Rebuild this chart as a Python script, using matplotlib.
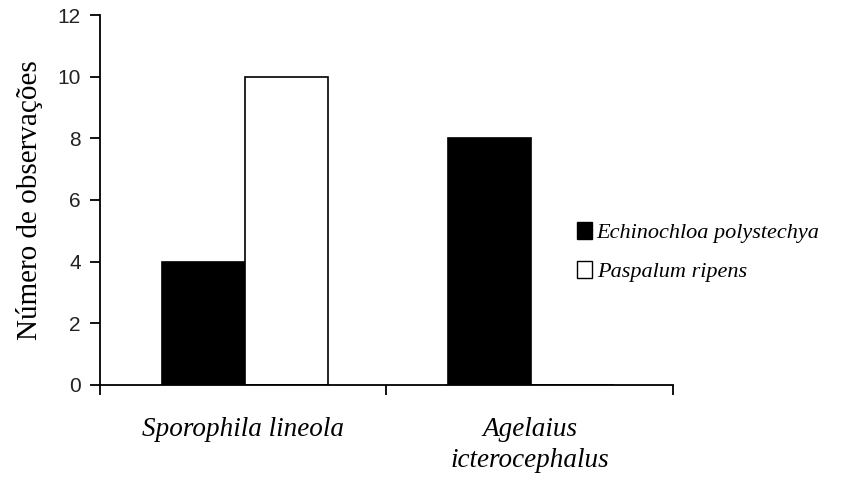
import numpy as np
import matplotlib.pyplot as plt
from matplotlib.patches import Patch

# data
species = ["Sporophila lineola", "Agelaius\nicterocephalus"]
echinochloa = [4, 8]
paspalum = [10, 0]
series_names = ["Echinochloa polystechya", "Paspalum ripens"]
yticks = [0, 2, 4, 6, 8, 10, 12]

fig = plt.figure(figsize=(8.41, 4.86), dpi=100)
ax = fig.add_axes([0.119, 0.208, 0.681, 0.761])

centers = np.arange(len(species)) + 0.5
w = 0.29
ax.bar(centers - w + 0.005, echinochloa, width=w, align="edge",
       color="black", edgecolor="black", linewidth=1.2)
ax.bar(centers + 0.005, paspalum, width=w, align="edge",
       color="white", edgecolor="black", linewidth=1.2)

ax.set_xlim(0, 2)
ax.set_ylim(0, 12)
ax.set_yticks(yticks)
ax.set_xticks([0, 1, 2])
ax.set_xticklabels([])
for sp in ["top", "right"]:
    ax.spines[sp].set_visible(False)
for sp in ["left", "bottom"]:
    ax.spines[sp].set_linewidth(1.3)
ax.tick_params(axis="y", direction="out", length=7, width=1.3,
               labelsize=15, pad=7, labelfontfamily="Liberation Sans",
               labelcolor="#222222")
ax.tick_params(axis="x", direction="out", length=7, width=1.3)

for c, name in zip(centers, species):
    ax.text(c, -1.05, name, ha="center", va="top", fontsize=19.5,
            family="Liberation Serif", style="italic", linespacing=1.3,
            transform=ax.transData)

ax.set_ylabel("Número de observações", family="Liberation Serif",
              fontsize=21, labelpad=10)

handles = [Patch(facecolor="black", edgecolor="black"),
           Patch(facecolor="white", edgecolor="black")]
fig.legend(handles, series_names, loc="center left",
           bbox_to_anchor=(0.662, 0.482), frameon=False,
           prop={"family": "Liberation Serif", "style": "italic", "size": 16},
           handlelength=0.7, handleheight=0.8, handletextpad=0.2,
           labelspacing=0.8)

fig.savefig("out.png", dpi=100)
